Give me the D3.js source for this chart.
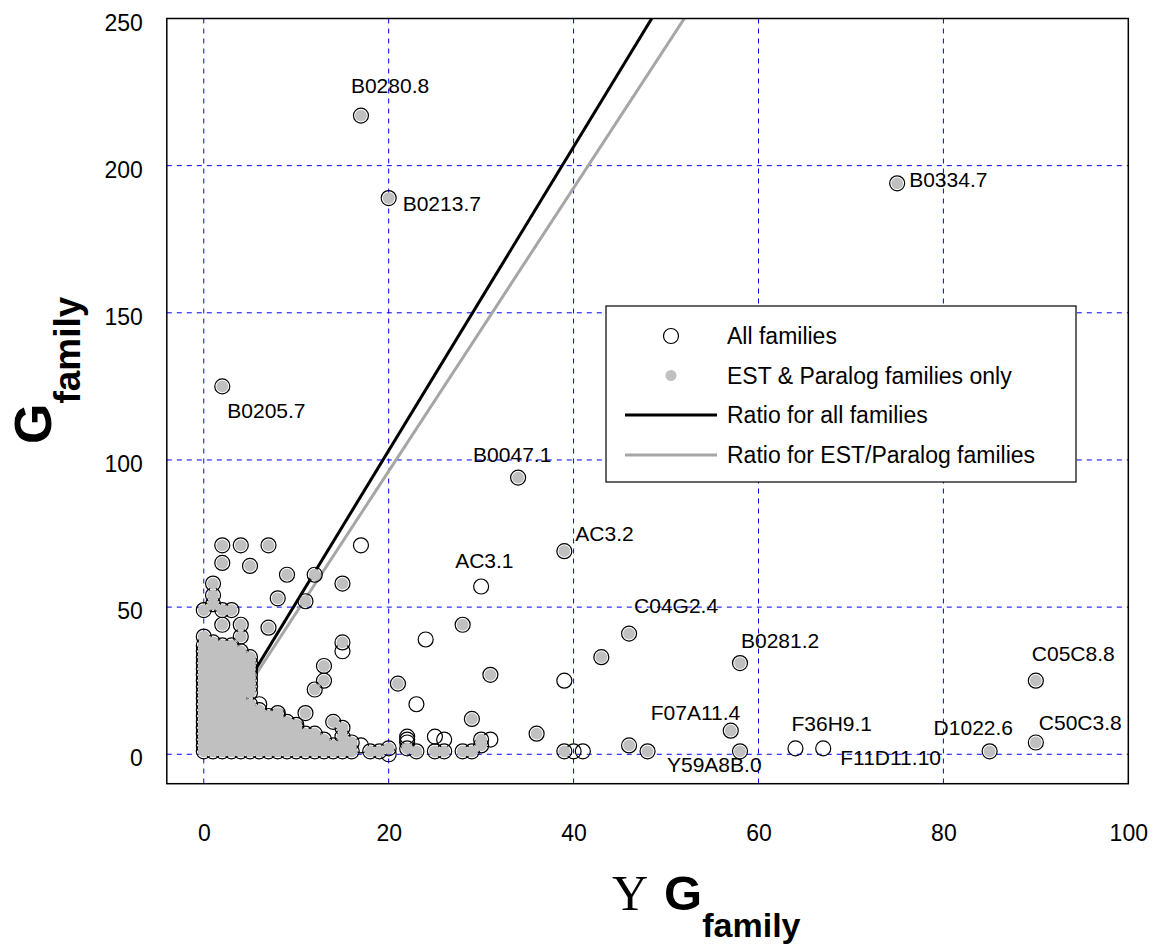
<!DOCTYPE html>
<html><head><meta charset="utf-8">
<script src="https://cdn.jsdelivr.net/npm/d3@7"></script>
<style>
body{margin:0;background:#fff;}
svg{display:block;}
text{font-family:Arial,"Liberation Sans",sans-serif;fill:#000;}
</style>
</head><body>
<svg id="chart" width="1153" height="947"></svg>
<script>
// ---------- DATA ----------
const xTicks = [0, 20, 40, 60, 80, 100];
const yTicks = [0, 50, 100, 150, 200, 250];

// EST & Paralog families (also part of "All families")
const estX = [
  0,1,2,3,4,5,6,7,8,9,10,11,12,13,14,15,16,18,19,
  0,1,2,3,4,5,6,7,8,9,10,11,12,13,14,15,
  0,1,2,3,4,5,6,7,8,9,10,11,12,13,
  0,1,2,3,4,5,6,7,8,9,10,11,12,
  0,1,2,3,4,5,6,7,8,9,10,
  0,1,2,3,4,5,6,7,8,9,
  0,1,2,3,4,5,6,7,8,
  0,1,2,3,4,5,6,
  0,1,2,3,4,5,
  0,1,2,3,4,
  0,1,2,3,4,5,
  0,1,2,3,4,5,
  0,1,2,3,4,5,
  0,1,2,3,4,5,
  0,1,2,3,4,5,
  0,1,2,3,4,5,
  0,1,2,3,4,5,
  0,1,2,3,4,
  0,1,2,3,
  0,1,4,2,4,7,0,1,2,3,1,1,2,5,2,4,7,9,12,8,11,15,15,13,13,12,21,8,11,10,
  14,15,15,16,20,22,23,25,26,28,29,30,30,29,28,31,36,39,34,43,46,46,48,39,
  58,57,58,85,90,90,75,20,17,2
];
const estY = [
  1,1,1,1,1,1,1,1,1,1,1,1,1,1,1,1,1,1,1,
  3,3,3,3,3,3,3,3,3,3,3,3,3,3,3,3,
  5,5,5,5,5,5,5,5,5,5,5,5,5,5,
  7,7,7,7,7,7,7,7,7,7,7,7,7,
  9,9,9,9,9,9,9,9,9,9,9,
  11,11,11,11,11,11,11,11,11,11,
  13,13,13,13,13,13,13,13,13,
  15,15,15,15,15,15,15,
  17,17,17,17,17,17,
  19,19,19,19,19,
  21,21,21,21,21,21,
  23,23,23,23,23,23,
  25,25,25,25,25,25,
  27,27,27,27,27,27,
  29,29,29,29,29,29,
  31,31,31,31,31,31,
  33,33,33,33,33,33,
  35,35,35,35,35,
  37,37,37,37,
  40,38,40,44,44,43,49,51,49,49,54,58,65,64,71,71,71,61,61,53,52,58,38,30,25,22,24,14,14,10,
  11,9,6,4,2,2,1,1,1,1,1,3,5,12,44,27,7,69,94,33,41,3,1,1,
  31,8,1,1,25,4,194,189,217,125
];

// Families present only in "All families" (open circles)
const openX = [17,15,6,23,24,30,39,17,20,22,22,22,25,26,31,40,41,64,67];
const openY = [71,35,17,17,39,57,25,3,0,4,5,6,6,5,5,1,1,2,2];

// Ratio lines (G_family / ΣG_family)
const ratioAll = 5.16;
const ratioEst = 4.81;

// Point labels
const labelNames = ["B0280.8","B0213.7","B0334.7","B0205.7","B0047.1","AC3.2","AC3.1","C04G2.4",
  "B0281.2","F07A11.4","Y59A8B.0","F36H9.1","F11D11.10","D1022.6","C05C8.8","C50C3.8"];
const labelX = [17,20,75,2,34,39,30,46,58,57,58,64,67,85,90,90];
const labelY = [217,189,194,125,94,69,57,41,31,8,1,2,2,1,25,4];

const legendLabels = ["All families","EST & Paralog families only","Ratio for all families","Ratio for EST/Paralog families"];

// ---------- LAYOUT / STYLE ----------
const labelOffsets = [[-10,-23],[14,13],[12,4],[5,32],[-45,-16],[11,-10],[-26,-19],[5,-21],
  [1,-15],[-80,-11],[-73,21],[-4,-17],[17,17],[-56,-16],[-4,-20],[3,-12]];
const greyFill = "#c0c0c0";
const greyLine = "#a6a6a6";

const svg = d3.select("#chart");
const x = d3.scaleLinear().domain([-4, 100]).range([166.8, 1128.3]);
const y = d3.scaleLinear().domain([-10, 250]).range([783.7, 18.5]);
const [x0, x1] = x.range();
const [y0, y1] = y.range();

svg.append("defs").append("clipPath").attr("id","plotclip")
  .append("rect").attr("x", x0).attr("y", y1).attr("width", x1 - x0).attr("height", y0 - y1);

// grid
const grid = svg.append("g");
grid.selectAll("line.vx").data(xTicks.filter(d => d < 100)).join("line")
  .attr("x1", d => x(d)).attr("x2", d => x(d)).attr("y1", y1).attr("y2", y0)
  .attr("stroke", "#0000ff").attr("stroke-width", 1).attr("stroke-dasharray", "5,5");
grid.selectAll("line.hy").data(yTicks.filter(d => d < 250)).join("line")
  .attr("y1", d => y(d)).attr("y2", d => y(d)).attr("x1", x0).attr("x2", x1)
  .attr("stroke", "#0000ff").attr("stroke-width", 1).attr("stroke-dasharray", "5,5");

// ratio lines
const plot = svg.append("g").attr("clip-path", "url(#plotclip)");
const line = d3.line().x(d => x(d[0])).y(d => y(d[1]));
plot.append("path").datum([[0,0],[260/ratioEst,260]]).attr("d", line)
  .attr("fill","none").attr("stroke", greyLine).attr("stroke-width", 3);
plot.append("path").datum([[0,0],[260/ratioAll,260]]).attr("d", line)
  .attr("fill","none").attr("stroke", "#000").attr("stroke-width", 3);

// points
const allPts = openX.map((d,i) => [d, openY[i]]).concat(estX.map((d,i) => [d, estY[i]]));
const estPts = estX.map((d,i) => [d, estY[i]]);
plot.append("g").selectAll("circle").data(allPts).join("circle")
  .attr("cx", d => x(d[0])).attr("cy", d => y(d[1])).attr("r", 7.5)
  .attr("fill", "none").attr("stroke", "#000").attr("stroke-width", 1.2);
plot.append("g").selectAll("circle").data(estPts).join("circle")
  .attr("cx", d => x(d[0])).attr("cy", d => y(d[1])).attr("r", 5.9)
  .attr("fill", greyFill);

// point labels
svg.append("g").selectAll("text").data(labelNames).join("text")
  .attr("x", (d,i) => x(labelX[i]) + labelOffsets[i][0])
  .attr("y", (d,i) => y(labelY[i]) + labelOffsets[i][1])
  .attr("font-size", 21).text(d => d);

// frame
svg.append("rect").attr("x", x0).attr("y", y1).attr("width", x1 - x0).attr("height", y0 - y1)
  .attr("fill", "none").attr("stroke", "#000").attr("stroke-width", 1.5);

// axes
const xAxis = svg.append("g").attr("transform", `translate(0,${y0})`)
  .call(d3.axisBottom(x).tickValues(xTicks).tickSize(0).tickPadding(41).tickFormat(d3.format("d")));
xAxis.select(".domain").remove();
xAxis.selectAll("text").attr("font-size", 23).attr("font-family", "Arial, 'Liberation Sans', sans-serif");

const yAxis = svg.append("g").attr("transform", `translate(${x0},0)`)
  .call(d3.axisLeft(y).tickValues(yTicks).tickSize(0).tickPadding(24).tickFormat(d3.format("d")));
yAxis.select(".domain").remove();
yAxis.selectAll("text").attr("font-size", 23).attr("dy", "0.5em").attr("font-family", "Arial, 'Liberation Sans', sans-serif");

// legend
const lg = svg.append("g");
lg.append("rect").attr("x", 606).attr("y", 306).attr("width", 470).attr("height", 176)
  .attr("fill", "#fff").attr("stroke", "#000").attr("stroke-width", 1.2);
const rowsY = [336, 375.5, 415, 455];
lg.append("circle").attr("cx", 671).attr("cy", rowsY[0]).attr("r", 7.5)
  .attr("fill", "none").attr("stroke", "#000").attr("stroke-width", 1.2);
lg.append("circle").attr("cx", 671).attr("cy", rowsY[1]).attr("r", 5.5).attr("fill", greyFill);
lg.append("line").attr("x1", 625).attr("x2", 717).attr("y1", rowsY[2]).attr("y2", rowsY[2])
  .attr("stroke", "#000").attr("stroke-width", 3);
lg.append("line").attr("x1", 625).attr("x2", 717).attr("y1", rowsY[3]).attr("y2", rowsY[3])
  .attr("stroke", greyLine).attr("stroke-width", 3);
lg.selectAll("text").data(legendLabels).join("text")
  .attr("x", 727).attr("y", (d,i) => rowsY[i] + 8).attr("font-size", 23).text(d => d);

// axis titles
const yt = svg.append("text").attr("transform", "translate(51,444) rotate(-90)").attr("font-weight", "bold");
yt.append("tspan").attr("font-size", 52).text("G");
yt.append("tspan").attr("font-size", 37).attr("dy", 29).text("family");

const xt = svg.append("text").attr("x", 612).attr("y", 910);
xt.append("tspan").attr("font-family", "'Liberation Serif','Times New Roman',serif").attr("font-size", 50).text("Y");
xt.append("tspan").attr("font-weight", "bold").attr("font-size", 49).attr("dx", 16).text("G");
xt.append("tspan").attr("font-weight", "bold").attr("font-size", 34).attr("dy", 27).text("family");
</script>
</body></html>
